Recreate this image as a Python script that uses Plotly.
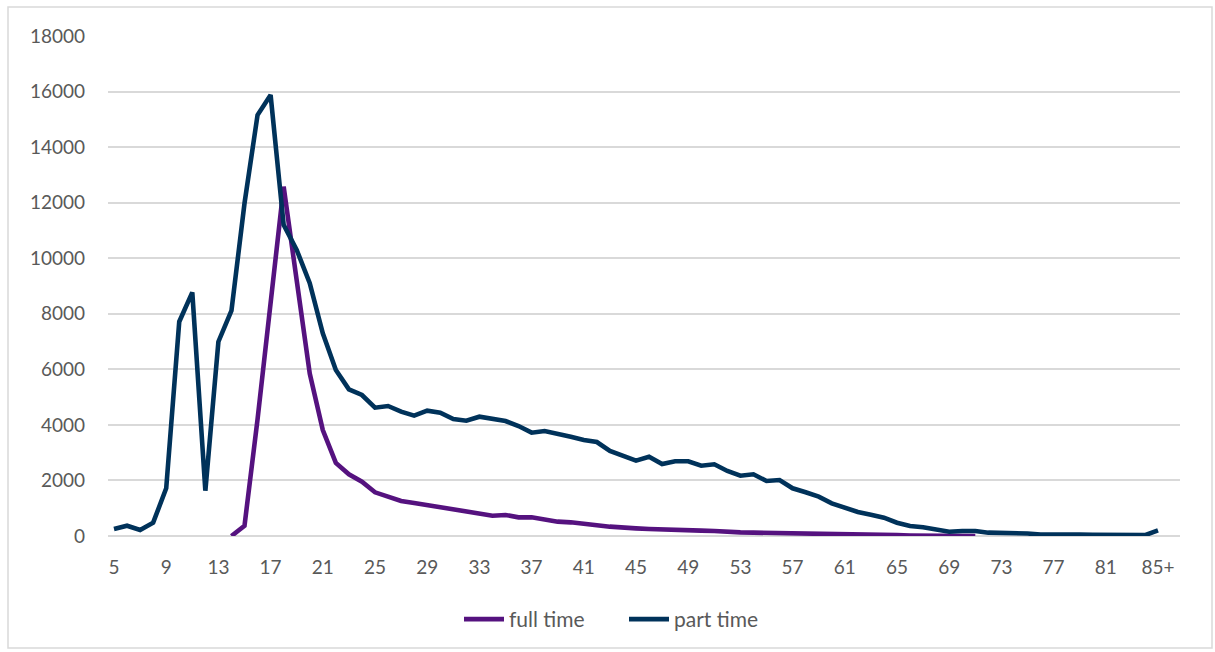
import plotly.graph_objects as go

ages = [str(a) for a in range(5, 85)] + ["85+"]

part_time = [250, 370, 216, 480, 1716, 7715, 8770, 1630, 6995, 8110,
             11975, 15156, 15876, 11200, 10300, 9100, 7300, 5976, 5281, 5076,
             4620, 4680, 4476, 4332, 4512, 4440, 4212, 4150, 4295, 4200,
             4140, 3960, 3720, 3780, 3697, 3575, 3456, 3384, 3060, 2880,
             2711, 2855, 2592, 2689, 2689, 2531, 2581, 2340, 2171, 2221,
             1980, 2016, 1717, 1573, 1415, 1177, 1008, 864, 767, 659,
             479, 360, 313, 241, 155, 180, 180, 120, 120, 100,
             90, 50, 60, 60, 50, 40, 40, 40, 40, 30, 200]

full_ages = [str(a) for a in range(14, 72)]
full_time = [0, 370, 4200, 8400, 12575, 9200, 5850, 3816, 2630, 2220,
             1956, 1573, 1415, 1260, 1190, 1117, 1033, 961, 890, 818,
             731, 757, 672, 672, 576, 516, 492, 420, 384, 336,
             288, 276, 252, 228, 216, 192, 192, 180, 144, 132,
             120, 108, 96, 84, 80, 70, 60, 50, 50, 40,
             30, 30, 20, 20, 15, 10, 10, 0]

tick_labels = [str(a) for a in range(5, 85, 4)] + ["85+"]

W, H = 1215, 652
L, R, T, B = 108, 1180, 36, 536

fig = go.Figure()
fig.add_trace(go.Scatter(x=full_ages, y=full_time, mode="lines", name="full time",
                         line=dict(color="#55127F", width=4.6)))
fig.add_trace(go.Scatter(x=ages, y=part_time, mode="lines", name="part time",
                         line=dict(color="#00325A", width=4.6)))

pw = R - L
ph = B - T
fig.add_shape(type="rect", xref="paper", yref="paper",
              x0=(8 - L) / pw, x1=(1212 - L) / pw,
              y0=(B - 648) / ph, y1=(B - 7) / ph,
              line=dict(color="#D9D9D9", width=1.5), fillcolor="rgba(0,0,0,0)", layer="below")

step = 13.05
fig.update_layout(
    width=W, height=H,
    margin=dict(l=L, r=W - R, t=T, b=H - B),
    paper_bgcolor="white", plot_bgcolor="white",
    font=dict(family="Lato, Open Sans, sans-serif", size=19, color="#595959"),
    showlegend=True,
    legend=dict(orientation="h", x=(624 - L) / pw, xanchor="center", y=(B - 640) / ph, yanchor="bottom",
                font=dict(size=21, color="#595959"), itemwidth=40,
                entrywidth=110, entrywidthmode="pixels"),
    xaxis=dict(type="category", categoryorder="array", categoryarray=ages,
               range=[-6 / step, 80 + 22 / step],
               tickmode="array", tickvals=tick_labels, ticktext=tick_labels,
               showgrid=False, showline=False, ticks="", zeroline=False,
               ticklabelstandoff=18),
    yaxis=dict(range=[0, 18000], dtick=2000, tickformat="d",
               showgrid=True, gridcolor="#D9D9D9", gridwidth=1.5,
               zeroline=True, zerolinecolor="#D9D9D9", zerolinewidth=1.5,
               showline=False, ticks="", ticklabelstandoff=22),
)

fig.write_html("out.html", post_script="document.body.style.margin='0';",
               config={"displayModeBar": False})
